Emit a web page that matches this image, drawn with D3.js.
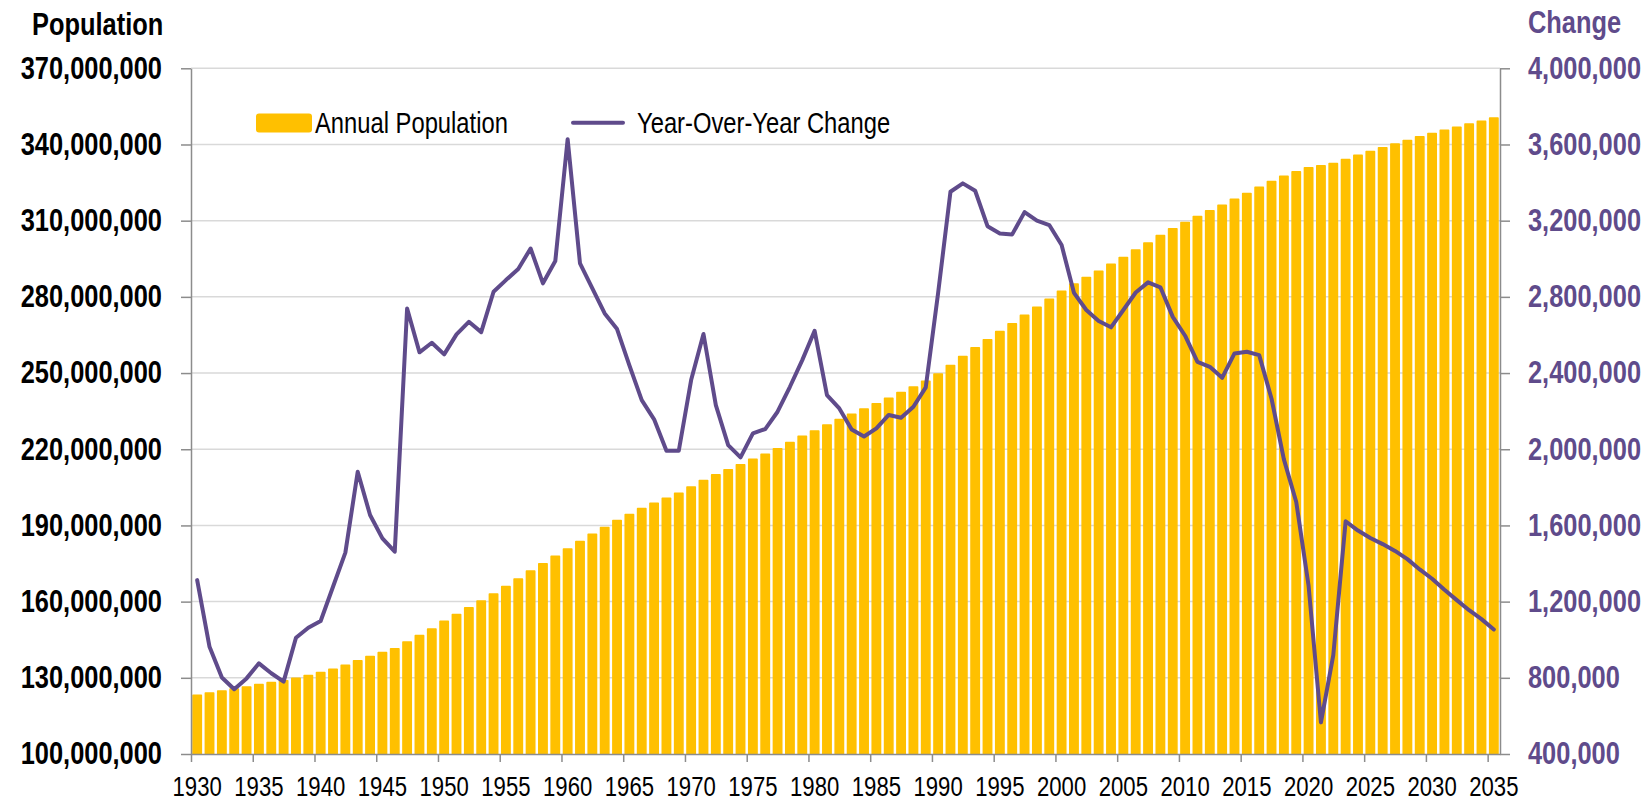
<!DOCTYPE html>
<html>
<head>
<meta charset="utf-8">
<script src="https://cdn.jsdelivr.net/npm/d3@7"></script>
<style>
  body { margin: 0; background: #fff; }
  svg { display: block; }
</style>
</head>
<body>
<svg></svg>
<script>
const years = d3.range(1930, 2036)

// annual population, millions
const population = [
  123.1, 124.0, 124.8, 125.6, 126.4, 127.3, 128.1, 128.8, 129.8, 130.9,
  132.1, 133.4, 134.9, 136.7, 138.4, 139.9, 141.4, 144.1, 146.6, 149.2,
  152.3, 154.9, 157.6, 160.2, 163.0, 165.9, 168.9, 172.0, 174.9, 177.8,
  180.7, 183.7, 186.5, 189.2, 191.9, 194.3, 196.6, 198.7, 200.7, 202.7,
  205.1, 207.7, 209.9, 211.9, 213.9, 216.0, 218.0, 220.2, 222.6, 225.1,
  227.2, 229.5, 231.7, 233.8, 235.8, 237.9, 240.1, 242.3, 244.5, 246.8,
  249.6, 253.0, 256.5, 259.9, 263.1, 266.3, 269.4, 272.7, 275.9, 279.0,
  282.2, 285.0, 287.6, 290.1, 292.8, 295.5, 298.4, 301.2, 304.1, 306.8,
  309.3, 311.6, 313.9, 316.1, 318.4, 320.7, 323.1, 325.4, 327.5, 329.2,
  330.8, 331.6, 332.5, 334.1, 335.7, 337.2, 338.7, 340.2, 341.6, 343.0,
  344.3, 345.6, 346.8, 348.0, 349.1, 350.4
]

// year-over-year change, thousands
const change = [
  1313, 963, 802, 740, 797, 876, 824, 780, 1010, 1063,
  1098, 1278, 1457, 1882, 1655, 1532, 1462, 2739, 2509, 2559,
  2498, 2603, 2669, 2615, 2827, 2888, 2946, 3054, 2871, 2988,
  3628, 2976, 2844, 2713, 2631, 2440, 2258, 2157, 1992, 1992,
  2363, 2605, 2232, 2022, 1957, 2083, 2106, 2197, 2328, 2468,
  2622, 2284, 2214, 2104, 2067, 2110, 2180, 2165, 2223, 2325,
  2820, 3352, 3396, 3357, 3171, 3133, 3128, 3245, 3200, 3177,
  3072, 2821, 2731, 2673, 2640, 2731, 2823, 2876, 2850, 2695,
  2596, 2459, 2433, 2375, 2503, 2512, 2494, 2265, 1947, 1723,
  1283, 566, 919, 1622, 1573, 1534, 1502, 1466, 1423, 1369,
  1320, 1262, 1208, 1155, 1108, 1054
]

const popTicks = [100e6, 130e6, 160e6, 190e6, 220e6, 250e6, 280e6, 310e6, 340e6, 370e6]
const changeTicks = [400e3, 800e3, 1200e3, 1600e3, 2000e3, 2400e3, 2800e3, 3200e3, 3600e3, 4000e3]
const yearTicks = [1930, 1935, 1940, 1945, 1950, 1955, 1960, 1965, 1970, 1975, 1980,
  1985, 1990, 1995, 2000, 2005, 2010, 2015, 2020, 2025, 2030, 2035]

const data = years.map((year, i) => ({year, pop: population[i] * 1e6, change: change[i] * 1e3}))

const gold = '#FFC000'
const purple = '#5F4B8B'
const axisGrey = '#8c8c8c'
const font = "'Liberation Sans', Arial, sans-serif"
const squeeze = 0.82  // Arial Narrow width, no narrow face installed

const svg = d3.select('svg')
const [svgWidth, svgHeight] = [1649, 801]
svg.attr('width', svgWidth).attr('height', svgHeight)

const plot = {left: 191, right: 1500, top: 68.3, bottom: 754}
const translate = (x, y) => `translate(${x}, ${y})`

const x = d3.scaleBand()
  .domain(years)
  .range([plot.left, plot.right])
  .paddingInner(0.33)
  .paddingOuter(0.165)

// same span as the bands, used for the tick marks between categories
const xEdge = d3.scaleLinear()
  .domain([1930, 2036])
  .range([plot.left, plot.right])

const y = d3.scaleLinear().domain([100e6, 370e6]).range([plot.bottom, plot.top])
const y2 = d3.scaleLinear().domain([400e3, 4000e3]).range([plot.bottom, plot.top])

// gridlines
svg.append('g').selectAll('line').data(popTicks.slice(1)).join('line')
  .attr('x1', plot.left).attr('x2', plot.right)
  .attr('y1', d => y(d)).attr('y2', d => y(d))
  .attr('stroke', '#d9d9d9').attr('stroke-width', 1.5)

// bars
svg.append('g').selectAll('rect').data(data).join('rect')
  .attr('x', d => x(d.year))
  .attr('width', x.bandwidth())
  .attr('y', d => y(d.pop))
  .attr('height', d => y(100e6) - y(d.pop))
  .attr('fill', gold)
  .attr('stroke', gold)
  .attr('stroke-width', 1.6)
  .attr('stroke-linejoin', 'round')

// line
const line = d3.line()
  .x(d => x(d.year) + x.bandwidth() / 2)
  .y(d => y2(d.change))

svg.append('path').datum(data)
  .attr('d', line)
  .attr('fill', 'none')
  .attr('stroke', purple)
  .attr('stroke-width', 4)
  .attr('stroke-linejoin', 'round')
  .attr('stroke-linecap', 'round')

// axes
const styleAxis = (g, size, weight, color) => {
  g.attr('font-family', font).attr('font-size', size).attr('font-weight', weight)
  g.selectAll('.domain, .tick line').attr('stroke', axisGrey).attr('stroke-width', 1.5)
  g.selectAll('text').attr('fill', color)
}

const yAxis = d3.axisLeft(y).tickValues(popTicks).tickFormat(d3.format(','))
  .tickSize(10).tickSizeOuter(0).tickPadding(19)
svg.append('g').attr('transform', translate(plot.left, 0)).call(yAxis)
  .call(g => styleAxis(g, 31, 'bold', '#000'))

const y2Axis = d3.axisRight(y2).tickValues(changeTicks).tickFormat(d3.format(','))
  .tickSize(10).tickSizeOuter(0).tickPadding(18)
svg.append('g').attr('transform', translate(plot.right, 0)).call(y2Axis)
  .call(g => styleAxis(g, 31, 'bold', purple))

const xTickAxis = d3.axisBottom(xEdge).tickValues(yearTicks).tickFormat('')
  .tickSize(8).tickSizeOuter(0)
svg.append('g').attr('transform', translate(0, plot.bottom)).call(xTickAxis)
  .call(g => styleAxis(g, 27, 'normal', '#000'))

const xAxis = d3.axisBottom(x).tickValues(yearTicks).tickSize(0).tickPadding(23)
svg.append('g').attr('transform', translate(0, plot.bottom)).call(xAxis)
  .call(g => styleAxis(g, 27, 'normal', '#000'))
  .call(g => g.select('.domain').remove())

// axis titles
svg.append('text').text('Population')
  .attr('x', 32).attr('y', 35)
  .attr('font-family', font).attr('font-size', 31).attr('font-weight', 'bold')
  .attr('fill', '#000')

svg.append('text').text('Change')
  .attr('x', 1528).attr('y', 33)
  .attr('font-family', font).attr('font-size', 31).attr('font-weight', 'bold')
  .attr('fill', purple)

// legend
const legend = svg.append('g').attr('font-family', font).attr('font-size', 29)

legend.append('rect')
  .attr('x', 256).attr('y', 113.5).attr('width', 56).attr('height', 19).attr('rx', 3)
  .attr('fill', gold)
legend.append('text').text('Annual Population')
  .attr('x', 315).attr('y', 133)

legend.append('line')
  .attr('x1', 573).attr('x2', 623).attr('y1', 122.7).attr('y2', 122.7)
  .attr('stroke', purple).attr('stroke-width', 4).attr('stroke-linecap', 'round')
legend.append('text').text('Year-Over-Year Change')
  .attr('x', 637).attr('y', 133)

// narrow the text horizontally around its own anchor x
svg.selectAll('text').each(function () {
  const t = d3.select(this)
  const x0 = +(t.attr('x') || 0)
  t.attr('x', x0 / squeeze).attr('transform', `scale(${squeeze}, 1)`)
})
</script>
</body>
</html>
